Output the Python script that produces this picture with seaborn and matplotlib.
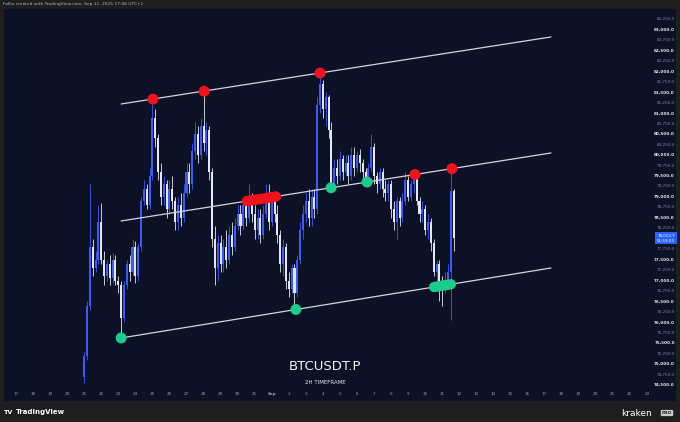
import numpy as np
import pandas as pd
import matplotlib
matplotlib.use("Agg")
import matplotlib.pyplot as plt
import matplotlib.transforms as mtransforms
import seaborn as sns

# ---------------- data ----------------
first_open = 74700
start_time = "2025-08-21 00:00"
closes = [75200, 76400, 77800, 77300, 77500, 78400,
          77500, 77100, 77400, 77050, 77500, 77000,
          76900, 76100, 76900, 77400, 77200, 77800,
          77100, 77800, 78900, 79200, 78800, 79500,
          80900, 80400, 79600, 79000, 79300, 78700,
          79200, 78900, 78400, 78800, 78500, 79100,
          79600, 79300, 80100, 80500, 80000, 80700,
          80300, 80600, 79600, 78000, 77300, 77900,
          77400, 77800, 77500, 78100, 77800, 78300,
          78600, 78300, 78800, 78500, 78900, 78600,
          78200, 78500, 78100, 78600, 78900, 78400,
          78900, 78600, 78100, 77400, 77800, 77000,
          76800, 77300, 76700, 77500, 78200, 78600,
          78900, 78500, 79000, 78700, 81200, 81700,
          81100, 81400, 80600, 79300, 79700, 79500,
          79900, 79600, 79800, 79500, 80000, 79700,
          80000, 79800, 79600, 79400, 79700, 80200,
          79500, 79300, 79600, 79200, 79100, 79300,
          78700, 78400, 78900, 78500, 78900, 79400,
          79000, 79300, 79500, 78900, 78600, 78700,
          78200, 78400, 77900, 77200, 77400, 76900,
          76800, 77000, 77200, 79150, 78014]
highs = [75300, 76500, 79300, 78000, 77700, 78800,
         78850, 77700, 77500, 77600, 77650, 77600,
         77100, 77000, 77000, 77500, 77600, 78000,
         77950, 77900, 79000, 79400, 79300, 79700,
         81340, 81100, 80500, 79800, 79500, 79400,
         79400, 79500, 79000, 79000, 79100, 79300,
         79800, 79800, 80300, 80800, 80700, 80900,
         81530, 80800, 80700, 79700, 78300, 78100,
         78100, 78000, 78200, 78300, 78400, 78500,
         78800, 78800, 78950, 79000, 79300, 79100,
         78800, 78700, 78700, 78800, 79300, 79300,
         79100, 79150, 78800, 78200, 78000, 77900,
         77200, 77400, 77400, 77600, 78400, 78800,
         79100, 79200, 79200, 79200, 81400, 81960,
         81800, 81500, 81450, 80800, 79900, 79900,
         80100, 80000, 80000, 80000, 80200, 80200,
         80100, 80150, 79900, 79700, 79800, 80500,
         80300, 79600, 79700, 79700, 79400, 79400,
         79400, 78900, 79000, 79000, 79100, 79600,
         79500, 79400, 79540, 79550, 79000, 78900,
         78800, 78600, 78500, 78000, 77500, 77500,
         77100, 77200, 77400, 79700, 79200]
lows = [74550, 75100, 76300, 77100, 77200, 77400,
        77400, 76900, 77000, 76900, 76950, 76900,
        76700, 75650, 76000, 76800, 77000, 77100,
        76950, 77000, 77700, 78800, 78700, 78700,
        79400, 80200, 79400, 78800, 78800, 78500,
        78600, 78700, 78200, 78200, 78300, 78400,
        79000, 79100, 79200, 79900, 79800, 79900,
        80100, 80000, 79400, 77800, 76900, 77000,
        77200, 77200, 77300, 77400, 77600, 77700,
        78200, 78100, 78200, 78300, 78400, 78400,
        78000, 78000, 77900, 78000, 78500, 78200,
        78300, 78400, 77900, 77200, 77100, 76800,
        76600, 76700, 76300, 76600, 77400, 78000,
        78400, 78300, 78300, 78500, 78600, 81000,
        80900, 80700, 80400, 79200, 79200, 79300,
        79400, 79400, 79500, 79300, 79400, 79500,
        79600, 79600, 79400, 79300, 79350, 79600,
        79300, 79100, 79200, 79000, 78900, 78900,
        78500, 78200, 78000, 78300, 78400, 78800,
        78900, 78900, 79100, 78800, 78400, 78400,
        78100, 78000, 77700, 77100, 76900, 76500,
        76400, 76700, 76800, 76050, 77700]

# channel lines: start/end time and price
line_names = ["upper", "middle", "lower"]
line_t0 = ["2025-08-23 04:00"] * 3
line_t1 = ["2025-09-17 09:00"] * 3
line_p0 = [81224, 78425, 75626]
line_p1 = [82827, 80052, 77300]

# touch markers
dot_times = ["2025-08-25 00:50", "2025-08-28 00:45", "2025-09-03 20:00",
             "2025-09-09 09:40", "2025-09-11 13:40",
             "2025-09-04 11:30", "2025-09-06 14:10",
             "2025-08-23 04:00", "2025-09-02 10:00"]
dot_prices = [81340, 81530, 81965, 79537, 79677, 79220, 79356, 75626, 76307]
dot_kind = ["top", "top", "top", "top", "top", "bottom", "bottom", "bottom", "bottom"]

red_zone_t = ["2025-08-30 13:10", "2025-09-01 06:00"]
red_zone_p = [78901, 79009]
green_zone_t = ["2025-09-10 12:30", "2025-09-11 12:15"]
green_zone_p = [76845, 76911]

price_ticks = list(range(74500, 83251, 250))
day_labels = [str(d) for d in range(17, 32)] + ["Sep"] + [str(d) for d in range(2, 24)]
last_price_label = "78,013.7"
countdown = "01:53:53"

# ---------------- styling ----------------
NAVY = "#0c1126"
OUTER = "#1e1e1f"
UP = "#3d5afe"
DOWN = "#e4e8f6"
RED = "#f2121c"
GREEN = "#1ccc8c"

sns.set_theme(style="dark", rc={"axes.facecolor": NAVY, "figure.facecolor": OUTER,
                                "axes.edgecolor": NAVY, "axes.grid": False})
plt.rcParams["font.family"] = ["DejaVu Sans"]

ref = pd.Timestamp("2025-08-17 00:00")
def to_days(ts):
    return (pd.to_datetime(ts) - ref) / pd.Timedelta(days=1)

fig = plt.figure(figsize=(6.8, 4.22), dpi=100)
ax = fig.add_axes([4 / 680, 21 / 422, 672 / 680, 392 / 422])
ax.set_facecolor(NAVY)

# candles
times = pd.date_range(start_time, periods=len(closes), freq="4h")
x = np.asarray(to_days(times), dtype=float)
c = np.array(closes, dtype=float)
o = np.concatenate([[first_open], c[:-1]])
h = np.array(highs, dtype=float)
l = np.array(lows, dtype=float)
up = c >= o
cols = np.where(up, UP, DOWN)
ax.vlines(x, l, h, colors=cols, linewidth=0.6, zorder=2)
body_bottom = np.minimum(o, c)
body_h = np.maximum(np.abs(c - o), 20)
ax.bar(x, body_h, bottom=body_bottom, width=0.12, color=cols, linewidth=0, zorder=3)

# channel lines
lines_df = pd.DataFrame({
    "name": line_names * 2,
    "d": list(to_days(line_t0)) + list(to_days(line_t1)),
    "price": line_p0 + line_p1,
})
sns.lineplot(data=lines_df, x="d", y="price", hue="name", units="name", estimator=None,
             palette={n: "#d4d6de" for n in line_names}, linewidth=0.9, legend=False,
             sort=True, ax=ax, zorder=4)

# zones (capsules)
ax.plot(to_days(red_zone_t), red_zone_p, color=RED, linewidth=7.4,
        solid_capstyle="round", zorder=5)
ax.plot(to_days(green_zone_t), green_zone_p, color=GREEN, linewidth=7.4,
        solid_capstyle="round", zorder=5)

# dots
dots_df = pd.DataFrame({"d": to_days(dot_times), "price": dot_prices, "kind": dot_kind})
sns.scatterplot(data=dots_df, x="d", y="price", hue="kind",
                palette={"top": RED, "bottom": GREEN}, s=62, linewidth=0,
                legend=False, ax=ax, zorder=6)

ax.set_xlim(-0.704, 38.71)
ax.set_ylim(74118, 83496)
ax.set_xticks([])
ax.set_yticks([])
ax.set_xlabel("")
ax.set_ylabel("")
for s in ax.spines.values():
    s.set_visible(False)

# price axis labels (the label under the last-price box is hidden by it)
tr_y = mtransforms.blended_transform_factory(ax.transAxes, ax.transData)
for p in price_ticks:
    if abs(p - closes[-1]) < 100:
        continue
    major = p % 500 == 0
    ax.text(0.9985, p, f"{p:,.1f}", transform=tr_y, ha="right", va="center",
            fontsize=3.0, color="#e6e8ef" if major else "#80859a",
            fontweight="bold" if major else "normal", zorder=7)
ax.text(0.9985, closes[-1], f"{last_price_label}\n{countdown}", transform=tr_y,
        ha="right", va="center", fontsize=2.9, color="white", linespacing=1.3,
        bbox=dict(boxstyle="square,pad=0.45", facecolor="#2962ff", edgecolor="none"),
        zorder=9)

# date labels
tr_x = mtransforms.blended_transform_factory(ax.transData, ax.transAxes)
for i, lab in enumerate(day_labels):
    ax.text(i, 0.018, lab, transform=tr_x, ha="center", va="center", fontsize=3.0,
            color="#9a9eac", fontweight="bold" if lab == "Sep" else "normal")

# titles
fig.text(325 / 680, 1 - 367 / 422, "BTCUSDT.P", ha="center", va="center",
         fontsize=9.5, color="#f0f2f8")
fig.text(325 / 680, 1 - 383 / 422, "2H TIMEFRAME", ha="center", va="center",
         fontsize=4.0, color="#e0e3ec")

# header and footer
fig.text(3 / 680, 1 - 4.5 / 422, "Follix created with TradingView.com, Sep 11, 2025 17:06 UTC+1",
         ha="left", va="center", fontsize=3.2, color="#b5b5b5")
fig.text(4 / 680, 1 - 412 / 422, "TV", ha="left", va="center", fontsize=4.6,
         color="white", fontweight="heavy")
fig.text(16 / 680, 1 - 412 / 422, "TradingView", ha="left", va="center", fontsize=5.0,
         color="white", fontweight="semibold")
fig.text(652 / 680, 1 - 413 / 422, "kraken", ha="right", va="center", fontsize=6.5,
         color="white")
fig.text(667 / 680, 1 - 413 / 422, "PRO", ha="center", va="center", fontsize=3.2,
         color=OUTER, fontweight="bold",
         bbox=dict(boxstyle="round,pad=0.25", facecolor="#c9c9c9", edgecolor="none"))

fig.savefig("out.png", dpi=100, facecolor=OUTER)
